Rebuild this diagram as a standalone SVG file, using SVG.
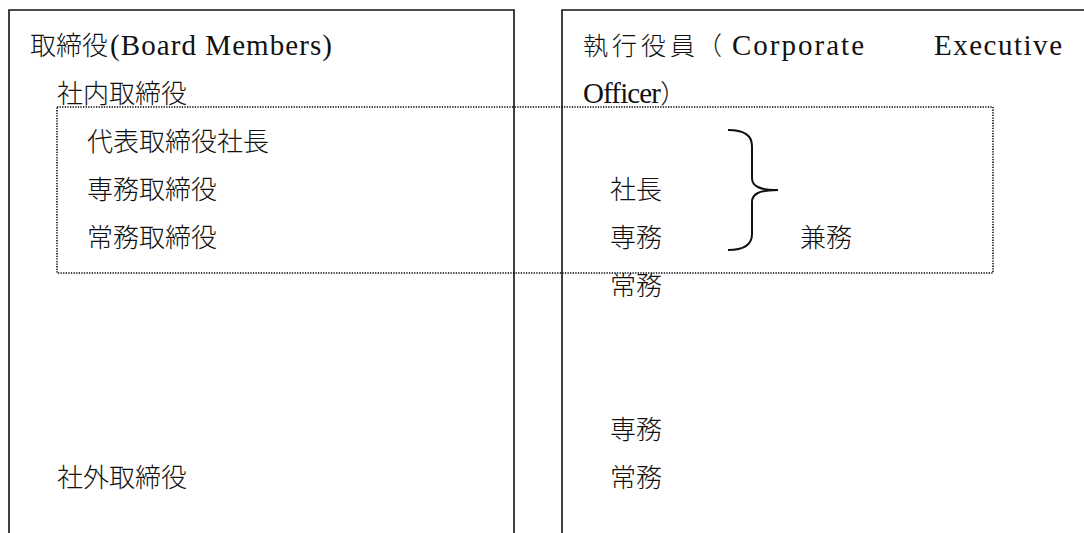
<svg xmlns="http://www.w3.org/2000/svg" width="1084" height="533" viewBox="0 0 1084 533">
<style>
.t{font-family:"Liberation Serif","Noto Sans CJK JP",serif;font-size:29px;fill:#111}
.j{font-family:"Noto Sans CJK JP","Liberation Serif",sans-serif;font-size:26px;fill:#111;font-weight:300}
.h{font-size:25px}
.frame{fill:none;stroke:#111;stroke-width:1.6}
.dot{fill:none;stroke:#000;stroke-width:1.5;stroke-dasharray:1.3 1.3}
.brace{fill:none;stroke:#111;stroke-width:2}
</style>
<rect width="1084" height="533" fill="#fff"/>
<g id="board">
  <path class="frame" d="M9,533 V10 H514 V533"/>
  <text class="j" x="30" y="55">取締役</text>
  <text class="t" x="110" y="55" textLength="222" lengthAdjust="spacing">(Board Members)</text>
  <text class="j" x="57" y="103">社内取締役</text>
  <text class="j" x="57" y="487">社外取締役</text>
</g>
<g id="inside-directors">
  <text class="j" x="87" y="151">代表取締役社長</text>
  <text class="j" x="87" y="199">専務取締役</text>
  <text class="j" x="87" y="247">常務取締役</text>
</g>
<g id="officers">
  <path class="frame" d="M562,533 V10 H1090"/>
  <text class="j h" x="583" y="55">執</text>
  <text class="j h" x="612" y="55">行</text>
  <text class="j h" x="641" y="55">役</text>
  <text class="j h" x="670" y="55">員</text>
  <text class="j h" x="697" y="55">（</text>
  <text class="t" x="732" y="55" textLength="132" lengthAdjust="spacing">Corporate</text>
  <text class="t" x="934" y="55" textLength="128" lengthAdjust="spacing">Executive</text>
  <text class="t" x="583" y="103"><tspan textLength="78" lengthAdjust="spacing">Officer</tspan><tspan class="j">）</tspan></text>
  <text class="j" x="610" y="199">社長</text>
  <text class="j" x="610" y="247">専務</text>
  <text class="j" x="610" y="295">常務</text>
  <text class="j" x="610" y="439">専務</text>
  <text class="j" x="610" y="487">常務</text>
</g>
<g id="concurrent">
  <text class="j" x="800" y="247">兼務</text>
</g>
<g id="connectors">
  <rect class="dot" x="57" y="107" width="936" height="166"/>
  <path class="brace" d="M728,130 C745,130 752,136 752,146 L752,178 C752,186 759,190 778,190 C759,190 752,194 752,202 L752,234 C752,244 745,250 728,250"/>
</g>
</svg>
